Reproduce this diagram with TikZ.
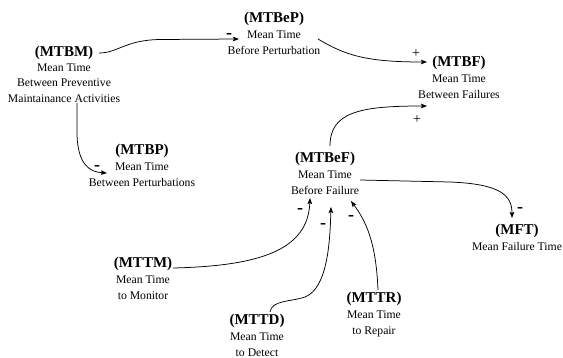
\documentclass[tikz,border=0pt]{standalone}
\usepackage{fontspec}
\setmainfont{Liberation Serif}
\usetikzlibrary{arrows.meta}
\newcommand{\ttl}[1]{{\fontsize{15}{16.8}\selectfont\bfseries #1}}
\tikzset{
  concept/.style={inner sep=0pt, anchor=base, font=\fontsize{11.7}{16.8}\selectfont},
  link/.style={line width=0.75pt, -{Stealth[length=6pt,width=4.5pt,inset=1pt]}},
  sign/.style={inner sep=0pt, font=\fontsize{18}{18}\selectfont\bfseries},
  plus/.style={inner sep=0pt, font=\fontsize{14}{14}\selectfont},
}
\begin{document}
\begin{tikzpicture}[x=1pt,y=-1pt]
\useasboundingbox (0,0) rectangle (563,358);
\node[concept] (mtbm) at (64,57) {\begin{tabular}[t]{@{}c@{}}\ttl{(MTBM)}\\[-2.5pt] Mean Time\\[-1.5pt] Between Preventive\\[-1pt] Maintainance Activities\end{tabular}};
\node[concept] (mtbep) at (274,23) {\begin{tabular}[t]{@{}c@{}}\ttl{(MTBeP)}\\[-1.7pt] Mean Time\\ Before Perturbation\end{tabular}};
\node[concept] (mtbf) at (459,67) {\begin{tabular}[t]{@{}c@{}}\ttl{(MTBF)}\\[-1.7pt] Mean Time\\ Between Failures\end{tabular}};
\node[concept] (mtbp) at (142,155) {\begin{tabular}[t]{@{}c@{}}\ttl{(MTBP)}\\[-1.7pt] Mean Time\\ Between Perturbations\end{tabular}};
\node[concept] (mtbef) at (325,163) {\begin{tabular}[t]{@{}c@{}}\ttl{(MTBeF)}\\[-1.7pt] Mean Time\\ Before Failure\end{tabular}};
\node[concept] (mft) at (517,235) {\begin{tabular}[t]{@{}c@{}}\ttl{(MFT)}\\[-1.7pt] Mean Failure Time\end{tabular}};
\node[concept] (mttm) at (143,268) {\begin{tabular}[t]{@{}c@{}}\ttl{(MTTM)}\\[-1.7pt] Mean Time\\ to Monitor\end{tabular}};
\node[concept] (mttd) at (257,325) {\begin{tabular}[t]{@{}c@{}}\ttl{(MTTD)}\\[-1.7pt] Mean Time\\ to Detect\end{tabular}};
\node[concept] (mttr) at (374,303) {\begin{tabular}[t]{@{}c@{}}\ttl{(MTTR)}\\[-1.7pt] Mean Time\\ to Repair\end{tabular}};

% MTBM -> MTBeP
\draw[link] ([shift={(35,-4)}]mtbm.base) .. controls (118,53) and (125,40) .. (160,39.5) -- ([shift={(-35,16)}]mtbep.base);
\node[sign] (s1) at (229,36) {-};
% MTBeP -> MTBF
\draw[link] ([shift={(44,16)}]mtbep.base) .. controls (345,55) and (365,62) .. ([shift={(-32,-5)}]mtbf.base);
\node[plus] (s2) at (416,54) {+};
% MTBM -> MTBP
\draw[link] ([shift={(13,46)}]mtbm.base) -- (77,135) .. controls (78,165) and (90,172) .. ([shift={(-35,18)}]mtbp.base);
\node[sign] (s3) at (97,168) {-};
% MTBeF -> MTBF
\draw[link] ([shift={(5,-17)}]mtbef.base) .. controls (330,112) and (360,106) .. ([shift={(-32,39)}]mtbf.base);
\node[plus] (s4) at (417,120) {+};
% MTBeF -> MFT
\draw[link] ([shift={(35,17)}]mtbef.base) -- (450,182) .. controls (500,184) and (512,195) .. ([shift={(-5,-17)}]mft.base);
\node[sign] (s5) at (520,210) {-};
% MTTM -> MTBeF
\draw[link] ([shift={(30,0)}]mttm.base) .. controls (260,266) and (308,250) .. ([shift={(-15,35)}]mtbef.base);
\node[sign] (s6) at (300,211) {-};
% MTTD -> MTBeF
\draw[link] ([shift={(13,-13)}]mttd.base) .. controls (272,300) and (290,302) .. (305,297) .. controls (328,288) and (330,240) .. ([shift={(6,44)}]mtbef.base);
\node[sign] (s7) at (323,226) {-};
% MTTR -> MTBeF
\draw[link] ([shift={(4,-13)}]mttr.base) .. controls (376,240) and (365,220) .. ([shift={(26,38)}]mtbef.base);
\node[sign] (s8) at (351,218) {-};
\end{tikzpicture}
\end{document}
